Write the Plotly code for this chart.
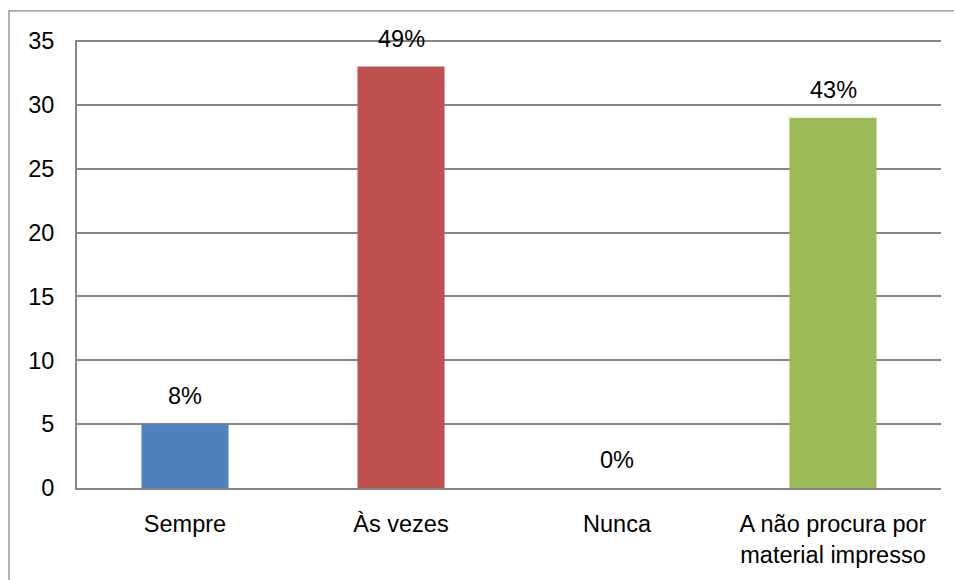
import plotly.graph_objects as go

categories = ["Sempre", "Às vezes", "Nunca", "A não procura por<br>material impresso"]
values = [5, 33, 0, 29]
pct_labels = ["8%", "49%", "0%", "43%"]
colors = ["#4F81BD", "#C0504D", "#4F81BD", "#9BBB59"]
y_ticks = [0, 5, 10, 15, 20, 25, 30, 35]

FONT = "Liberation Sans"
FS = 23.5

fig = go.Figure()
fig.add_trace(go.Bar(
    x=categories, y=values, marker=dict(color=colors, line=dict(width=0)),
    width=0.403, hoverinfo="skip",
))

for c, v, t in zip(categories, values, pct_labels):
    fig.add_annotation(x=c, y=v, text=t, showarrow=False, yanchor="bottom",
                       yshift=13, font=dict(family=FONT, size=FS, color="#000000"))

# outer chart frame
fig.add_shape(type="rect", xref="paper", yref="paper",
              x0=-0.0787, x1=1.05, y0=-0.3, y1=1.0649,
              line=dict(color="#888888", width=1.3), layer="below")

fig.update_layout(
    width=954, height=580,
    margin=dict(l=77, r=13, t=40, b=92),
    paper_bgcolor="white", plot_bgcolor="white",
    showlegend=False,
    bargap=0.597,
    font=dict(family=FONT, size=FS, color="#000000"),
)
fig.update_xaxes(
    showgrid=False, showline=True, linecolor="#868686", linewidth=2,
    ticks="", tickfont=dict(family=FONT, size=FS), ticklabelstandoff=14,
    zeroline=False, automargin=False,
)
fig.update_yaxes(
    range=[0, 35.08], tickvals=y_ticks, showgrid=True, gridcolor="#868686", gridwidth=1.6,
    showline=True, linecolor="#868686", linewidth=2, zeroline=False,
    ticks="", tickfont=dict(family=FONT, size=FS), ticklabelstandoff=16,
    automargin=False,
)

fig.write_html("out.html")
